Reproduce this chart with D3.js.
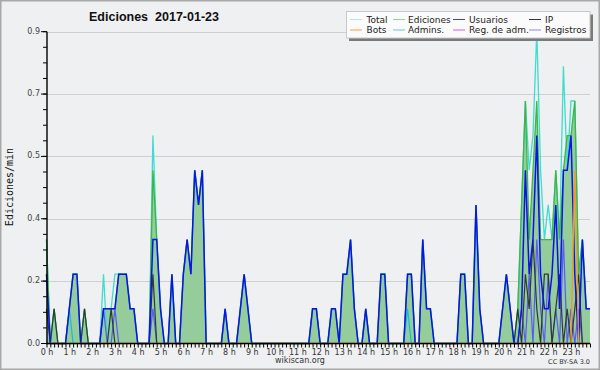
<!DOCTYPE html>
<html><head><meta charset="utf-8">
<script src="https://cdn.jsdelivr.net/npm/d3@7"></script>
<style>body{margin:0;background:#fff}svg{display:block}</style>
</head><body>
<svg id="c" width="600" height="370"></svg>
<script>
// ---- data (edits per minute, 10-minute bins, 144 bins = 24 h) ----
const hourLabels = d3.range(24).map(h => h + " h");
const yTicks = [0, 0.18, 0.36, 0.54, 0.72, 0.9];
const yTickLabels = ["0.0", "0.2", "0.4", "0.5", "0.7", "0.9"];
const legendNames = ["Total", "Ediciones", "Usuarios", "IP", "Bots", "Admins.", "Reg. de adm.", "Registros"];

const usuarios = [
 0.2,0,0,0,0,0,0.1,0.2,0.2,0,0,0,
 0,0,0,0.1,0.1,0.1,0.1,0.2,0.2,0.2,0.1,0.1,
 0,0,0,0,0.3,0.3,0.1,0,0,0.2,0,0,
 0.2,0.3,0.2,0.5,0.4,0.5,0,0,0,0,0,0.1,
 0,0,0,0.1,0.2,0.1,0,0,0,0,0,0,
 0,0,0,0,0,0,0,0,0,0,0.1,0.1,
 0,0,0,0.1,0.1,0,0.2,0.2,0.3,0.1,0,0,
 0.1,0,0,0,0.2,0.2,0,0,0,0,0,0.2,
 0.2,0,0,0.3,0.1,0.1,0,0,0,0,0,0,
 0,0.2,0.2,0,0,0.4,0.1,0,0,0,0,0,
 0.1,0.2,0.1,0,0,0.1,0.5,0.2,0.3,0.6,0.2,0.1,
 0.1,0.2,0.4,0.1,0.5,0.5,0.6,0.2,0,0.3,0.1,0.1];
const ediciones = [
 0.3,0,0.1,0,0,0,0.1,0.2,0.2,0,0.1,0,
 0,0,0,0.1,0.1,0.1,0.1,0.2,0.2,0.2,0.1,0.1,
 0,0,0,0,0.5,0.3,0.1,0,0,0.2,0,0,
 0.2,0.3,0.2,0.5,0.4,0.5,0,0,0,0,0,0.1,
 0,0,0,0.1,0.2,0.1,0,0,0,0,0,0,
 0,0,0,0,0,0,0,0,0,0,0.1,0.1,
 0,0,0,0.1,0.1,0,0.2,0.2,0.3,0.1,0,0,
 0.1,0,0,0,0.2,0.2,0,0,0,0,0,0.2,
 0.2,0,0,0.3,0.1,0.1,0,0,0,0,0,0,
 0,0.2,0.2,0,0,0.4,0.1,0,0,0,0,0,
 0.1,0.2,0.1,0,0.1,0.4,0.7,0.3,0.5,0.7,0.3,0.3,
 0.3,0.3,0.5,0.3,0.5,0.6,0.6,0.7,0.2,0.3,0.1,0.1];
const total = [
 0.3,0,0.1,0,0,0,0.1,0.2,0.2,0,0.1,0,
 0,0,0,0.2,0,0.1,0.2,0.2,0.2,0.2,0.1,0.1,
 0,0,0,0,0.6,0.3,0.1,0,0,0.2,0,0,
 0.2,0.3,0.2,0.5,0.4,0.5,0,0,0,0,0,0.1,
 0,0,0,0.1,0.2,0.1,0,0,0,0,0,0,
 0,0,0,0,0,0,0,0,0,0,0.1,0.1,
 0,0,0,0.1,0.1,0,0.2,0.2,0.3,0.1,0,0,
 0.1,0,0,0,0.2,0.2,0,0,0,0,0,0.2,
 0.2,0,0,0.3,0.1,0.1,0,0,0,0,0,0,
 0,0.2,0.2,0,0,0.4,0.1,0,0,0,0,0,
 0.1,0.2,0.1,0,0.1,0.4,0.7,0.5,0.6,0.9,0.5,0.3,
 0.4,0.3,0.5,0.3,0.8,0.5,0.7,0.7,0.2,0.3,0.1,0.1];
const ip = [
 0.1,0,0.1,0,0,0,0,0,0,0,0.1,0,
 0,0,0,0,0,0.1,0,0,0,0,0,0,
 0,0,0,0,0.2,0,0,0,0,0,0,0,
 0,0,0,0,0,0,0,0,0,0,0,0,
 0,0,0,0,0,0,0,0,0,0,0,0,
 0,0,0,0,0,0,0,0,0,0,0,0,
 0,0,0,0,0,0,0,0,0,0,0,0,
 0,0,0,0,0,0,0,0,0,0,0,0,
 0,0,0,0,0,0,0,0,0,0,0,0,
 0,0,0,0,0,0,0,0,0,0,0,0,
 0,0,0,0,0.1,0,0.2,0.1,0.3,0.1,0,0.2,
 0.2,0,0.1,0.2,0,0.1,0,0.1,0.2,0,0,0];
const registros = [
 0,0,0,0,0,0,0,0,0,0,0,0,
 0,0,0,0.1,0,0,0.1,0,0,0,0,0,
 0,0,0,0,0.1,0,0,0,0,0,0,0,
 0,0,0,0,0,0,0,0,0,0,0,0,
 0,0,0,0,0,0,0,0,0,0,0,0,
 0,0,0,0,0,0,0,0,0,0,0,0,
 0,0,0,0,0,0,0,0,0,0,0,0,
 0,0,0,0,0,0,0,0,0,0,0,0,
 0,0,0,0,0,0,0,0,0,0,0,0,
 0,0,0,0,0,0,0,0,0,0,0,0,
 0,0,0,0,0,0.1,0,0.2,0,0.3,0.1,0,
 0.2,0,0.1,0,0.3,0,0.1,0,0.1,0,0,0];
const admins = [
 0,0,0,0,0,0,0.1,0,0,0,0,0,
 0,0,0,0,0,0,0,0,0,0,0,0,
 0,0,0,0,0,0,0,0,0,0,0,0,
 0,0,0,0,0,0,0,0,0,0,0,0,
 0,0,0,0,0,0,0,0,0,0,0,0,
 0,0,0,0,0,0,0,0,0,0,0,0,
 0,0,0,0,0,0,0,0,0,0,0,0,
 0,0,0,0,0,0,0,0,0,0,0,0.1,
 0,0,0,0,0,0,0,0,0,0,0,0,
 0,0,0,0,0,0,0,0,0,0,0,0,
 0,0,0,0,0,0,0,0,0,0,0,0,
 0,0,0,0,0,0,0,0,0,0,0,0];
const bots = [
 0,0,0,0,0,0,0,0,0,0,0,0,
 0,0,0,0,0,0,0,0,0,0,0,0,
 0,0,0,0,0,0,0,0,0,0,0,0,
 0,0,0,0,0,0,0,0,0,0,0,0,
 0,0,0,0,0,0,0,0,0,0,0,0,
 0,0,0,0,0,0,0,0,0,0,0,0,
 0,0,0,0,0,0,0,0,0,0,0,0,
 0,0,0,0,0,0,0,0,0,0,0,0,
 0,0,0,0,0,0,0,0,0,0,0,0,
 0,0,0,0,0,0,0,0,0,0,0,0,
 0,0,0,0,0,0,0,0,0,0,0,0,
 0,0,0,0,0,0,0,0.5,0,0,0,0];

// ---- layout ----
const svg = d3.select("#c");
const W = 600, H = 370;
const L = 47, R = 590, T = 31.7, B = 343.5;
const nBins = usuarios.length;

svg.append("rect").attr("x",0.75).attr("y",0.75).attr("width",W-1.5).attr("height",H-1.5)
  .attr("fill","#eff0f1").attr("stroke","#a8a8a8").attr("stroke-width",1.5);

const x = d3.scaleLinear().domain([0, nBins-1]).range([L-0.5, R]);
const y = d3.scaleLinear().domain([0, 0.9]).range([B, T]);

// grid
svg.append("g").selectAll("line").data(yTicks.slice(1)).join("line")
  .attr("x1",L).attr("x2",R).attr("y1",d=>Math.round(y(d))+0.5).attr("y2",d=>Math.round(y(d))+0.5)
  .attr("stroke","#cfcfcf").attr("stroke-width",1);

// series
const area = d3.area().x((d,i)=>x(i)).y0(y(0)).y1(d=>y(d));
const line = d3.line().x((d,i)=>x(i)).y(d=>y(d));
svg.append("path").datum(ediciones).attr("d",area).attr("fill","#94cc9b");
svg.append("path").datum(total).attr("d",line).attr("fill","none").attr("stroke","#3fdcd0").attr("stroke-width",1.3);
svg.append("path").datum(ediciones).attr("d",line).attr("fill","none").attr("stroke","#3cb648").attr("stroke-width",1.3);
svg.append("path").datum(registros).attr("d",line).attr("fill","none").attr("stroke","#5a5af5").attr("stroke-width",1.2);
svg.append("path").datum(admins).attr("d",line).attr("fill","none").attr("stroke","#14bcd8").attr("stroke-width",1.2);
svg.append("path").datum(ip).attr("d",line).attr("fill","none").attr("stroke","#2f3a32").attr("stroke-width",1.2);
svg.append("path").datum(usuarios).attr("d",line).attr("fill","none").attr("stroke","#0a14e6").attr("stroke-width",1.5);
svg.append("path").datum(bots).attr("d",line).attr("fill","none").attr("stroke","#f59a1a").attr("stroke-width",1.3);

// axes
const xAxis = d3.axisBottom(x).tickValues(d3.range(0, nBins)).tickSize(4).tickFormat("");
const gx = svg.append("g").attr("transform",`translate(0,${B})`).call(xAxis);
gx.select(".domain").attr("stroke","#000").attr("stroke-width",1.5).attr("d",`M${L-1},0H${R}`);
gx.selectAll(".tick line").attr("stroke","#000").attr("stroke-width",1);
svg.append("g").selectAll("text").data(hourLabels).join("text")
  .attr("x",(d,i)=>x(i*6)+0.5).attr("y",354.5).attr("text-anchor","middle")
  .attr("font-family","DejaVu Sans").attr("font-size",8).attr("fill","#333").text(d=>d);

const minor = d3.range(0, 0.9001, 0.045);
const gy = svg.append("g").attr("transform",`translate(${L},0)`);
gy.append("line").attr("x1",0).attr("x2",0).attr("y1",T).attr("y2",B+0.75).attr("stroke","#000").attr("stroke-width",1.4);
gy.selectAll("line.mn").data(minor).join("line").attr("class","mn")
  .attr("x1",-4).attr("x2",0).attr("y1",d=>y(d)).attr("y2",d=>y(d)).attr("stroke","#000").attr("stroke-width",1);
gy.selectAll("line.mj").data(yTicks).join("line").attr("class","mj")
  .attr("x1",-6).attr("x2",0).attr("y1",d=>y(d)).attr("y2",d=>y(d)).attr("stroke","#000").attr("stroke-width",1);
gy.selectAll("text").data(yTicks).join("text")
  .attr("x",-7).attr("y",d=>y(d)+2).attr("text-anchor","end")
  .attr("font-family","DejaVu Sans").attr("font-size",8).attr("fill","#444")
  .text((d,i)=>yTickLabels[i]);

// titles
svg.append("text").attr("x",154).attr("y",21).attr("text-anchor","middle")
  .attr("font-family","Liberation Sans, Arial, sans-serif").attr("font-weight","bold").attr("font-size",12.5)
  .attr("fill","#111").attr("xml:space","preserve").style("white-space","pre").text("Ediciones  2017-01-23");
svg.append("text").attr("transform","translate(13,187) rotate(-90)").attr("text-anchor","middle")
  .attr("font-family","DejaVu Sans Mono").attr("font-size",10).attr("fill","#111").text("Ediciones/min");
svg.append("text").attr("x",300).attr("y",363).attr("text-anchor","middle")
  .attr("font-family","DejaVu Sans").attr("font-size",8).attr("fill","#333").text("wikiscan.org");
svg.append("text").attr("x",590).attr("y",364).attr("text-anchor","end")
  .attr("font-family","DejaVu Sans").attr("font-size",6.5).attr("fill","#333").text("CC BY-SA 3.0");

// legend
const legColors = ["#aee8e8","#8fd88f","#4040d8","#333333","#f5a040","#5acde0","#d060e0","#8888f0"];
const lg = svg.append("g");
lg.append("rect").attr("x",349).attr("y",14.5).attr("width",244).attr("height",26.5).attr("fill","#7a7a7a");
lg.append("rect").attr("x",346.5).attr("y",11.5).attr("width",243.5).attr("height",26.5)
  .attr("fill","#fbfbfb").attr("stroke","#c8c8c8").attr("stroke-width",1);
const colX = [350, 393, 453, 529];
const colT = [366.5, 408, 469, 545];
legendNames.forEach((n,k)=>{
  const col = k % 4, row = Math.floor(k/4);
  const yy = 19.5 + row*10.5;
  lg.append("line").attr("x1",colX[col]).attr("x2",colX[col]+12).attr("y1",yy).attr("y2",yy)
    .attr("stroke",legColors[k]).attr("stroke-width",1);
  lg.append("text").attr("x",colT[col]).attr("y",yy+3.2)
    .attr("font-family","DejaVu Sans").attr("font-size",9).attr("fill","#222").text(n);
});
</script>
</body></html>
